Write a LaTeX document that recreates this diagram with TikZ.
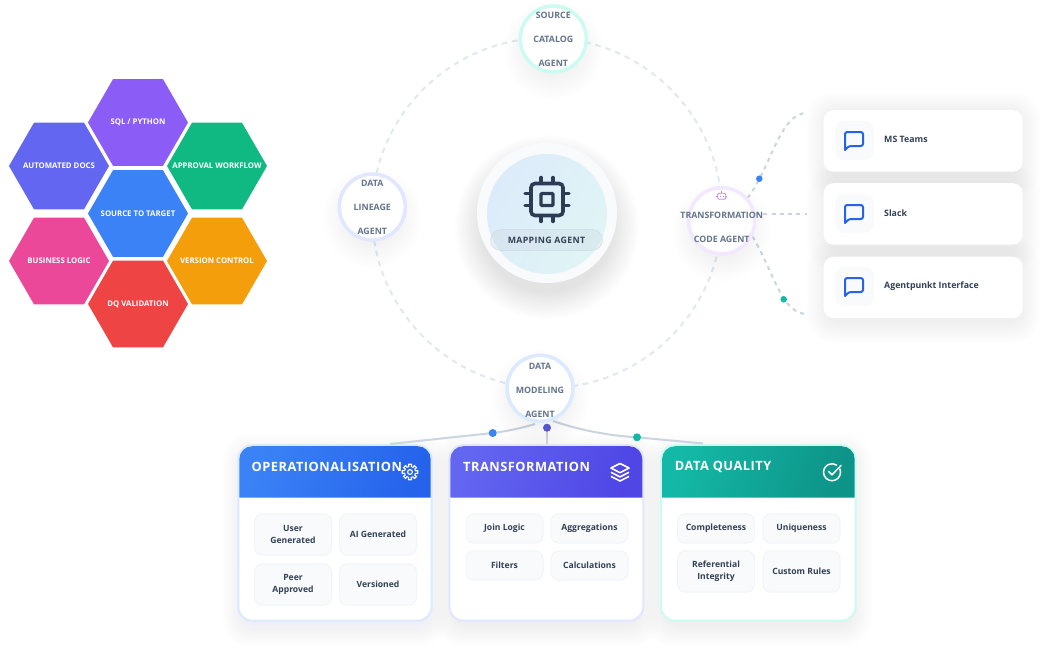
\documentclass[tikz,border=0pt]{standalone}
\usepackage{fontspec}
\setmainfont{Open Sans}
\newfontfamily\trackfont[LetterSpace=4]{Open Sans}
\usetikzlibrary{shapes.geometric}
\usetikzlibrary{arrows,arrows.meta}
\usetikzlibrary{calc}
\definecolor{hexblue}{RGB}{59,130,246}
\definecolor{hexviolet}{RGB}{139,92,246}
\definecolor{hexindigo}{RGB}{99,102,241}
\definecolor{hexgreen}{RGB}{16,185,129}
\definecolor{hexpink}{RGB}{236,72,153}
\definecolor{hexamber}{RGB}{245,158,11}
\definecolor{hexred}{RGB}{239,68,68}
\definecolor{ringline}{RGB}{226,232,240}
\definecolor{linkline}{RGB}{203,213,225}
\definecolor{agenttext}{RGB}{100,116,139}
\definecolor{inktext}{RGB}{51,65,85}
\definecolor{icondark}{RGB}{45,60,85}
\definecolor{chipfill}{RGB}{248,250,252}
\definecolor{chipline}{RGB}{241,245,249}
\definecolor{bubbleblue}{RGB}{37,99,235}
\definecolor{edgeblue}{RGB}{219,234,254}
\definecolor{edgeindigo}{RGB}{224,231,255}
\definecolor{edgeteal}{RGB}{204,251,241}
\definecolor{edgepurple}{RGB}{243,232,255}
\definecolor{headindigo}{RGB}{79,70,229}
\definecolor{headteal}{RGB}{20,184,166}
\definecolor{headtealdark}{RGB}{13,148,136}
\definecolor{robotpurple}{RGB}{192,132,252}
\definecolor{mapleft}{RGB}{220,235,250}
\definecolor{mapright}{RGB}{224,245,245}

\newcommand{\glowdisc}[5]{\foreach \g in {1,...,14}{\fill[#4,opacity=#5] (#1,#2) circle (#3+\g*2);}}
\newcommand{\glowbox}[6]{\foreach \g in {1,...,16}{\fill[#5,opacity=#6,rounded corners=12+\g] (#1-\g*1.4,#2-\g*1.4) rectangle (#3+\g*1.4,#4+\g*1.4);}}
\newcommand{\bubbleicon}[2]{\draw[bubbleblue, line width=2pt, line join=round, shift={(#1,#2)}] (3,21) [rounded corners=2.2] -- (3,3) -- (21,3) -- (21,17) -- (7,17) [sharp corners] -- cycle;}
\newcommand{\hexlabel}[1]{\makebox[0pt]{\raisebox{-1.5pt}{#1}}}

\tikzset{
	hexa/.style={regular polygon, regular polygon sides=6, minimum size=100pt, inner sep=0pt, outer sep=0pt, text=white, font=\bfseries\fontsize{7.8}{10}\selectfont},
	orbit/.style={circle, draw=ringline, line width=2pt, dash pattern=on 5.5pt off 5pt, minimum size=350pt, inner sep=0pt},
	agent/.style={circle, fill=white, line width=3.5pt, minimum size=66pt, inner sep=0pt},
	agentlabel/.style={align=center, text=agenttext, font=\bfseries\fontsize{8.8}{24}\selectfont, inner sep=0pt},
	toolcard/.style={rectangle, rounded corners=10pt, fill=white, minimum width=199pt, minimum height=61.5pt, anchor=north west, inner sep=0pt},
	toolicon/.style={rectangle, rounded corners=9pt, fill=chipfill, minimum size=39pt, inner sep=0pt},
	toollabel/.style={anchor=west, text=inktext, inner sep=0pt, font=\bfseries\fontsize{8.8}{11}\selectfont},
	panel/.style={rectangle, rounded corners=14pt, fill=white, line width=2pt, anchor=north west, minimum height=175.5pt, inner sep=0pt},
	paneltitle/.style={anchor=west, text=white, inner sep=0pt, font=\trackfont\bfseries\fontsize{12.8}{14}\selectfont},
	chip/.style={rectangle, rounded corners=8pt, fill=chipfill, draw=chipline, line width=1pt, anchor=north west, minimum width=77pt, align=center, text=inktext, inner sep=0pt, font=\bfseries\fontsize{8.6}{12.4}\selectfont},
	linkdash/.style={linkline, line width=2pt, dash pattern=on 4pt off 4.3pt},
	linksolid/.style={linkline, line width=2pt},
	dot/.style={circle, minimum size=6.5pt, inner sep=0pt},
	busdot/.style={circle, minimum size=8pt, inner sep=0pt},
}

\begin{document}
\begin{tikzpicture}[x=1pt, y=-1pt]

	\useasboundingbox (0,0) rectangle (1040,650);
	\fill[white] (0,0) rectangle (1040,650);

	% hexagons
	\node[hexa, fill=hexviolet] (sqlhex) at (138,122.5) {\hexlabel{SQL / PYTHON}};
	\node[hexa, fill=hexindigo] (docshex) at (59,166) {\hexlabel{AUTOMATED DOCS}};
	\node[hexa, fill=hexgreen] (approvalhex) at (217,166) {\hexlabel{APPROVAL WORKFLOW}};
	\node[hexa, fill=hexblue] (targethex) at (138,213.5) {\hexlabel{SOURCE TO TARGET}};
	\node[hexa, fill=hexpink] (logichex) at (59,261) {\hexlabel{BUSINESS LOGIC}};
	\node[hexa, fill=hexamber] (versionhex) at (217,261) {\hexlabel{VERSION CONTROL}};
	\node[hexa, fill=hexred] (dqhex) at (138,304) {\hexlabel{DQ VALIDATION}};

	% %%%% ring
	\node[orbit] (ring) at (547,213) {};

	\glowdisc{547}{227}{64}{black}{0.006}
	\node[circle, fill=chipfill, minimum size=140pt, inner sep=0pt] (mapouter) at (547,213) {};
	\node[circle, left color=mapleft, right color=mapright, shading angle=60, minimum size=120pt, inner sep=0pt] (mapinner) at (547,214) {};

	% chip icon
	\draw[icondark, line width=3.6pt, rounded corners=4pt] (531,183.5) rectangle (563,215.5);
	\draw[icondark, line width=3.4pt, rounded corners=1pt] (541,193.5) rectangle (553,205.5);
	\foreach \p in {541,553} {
		\draw[icondark, line width=3.4pt, line cap=round] (\p,177.5) -- (\p,182);
		\draw[icondark, line width=3.4pt, line cap=round] (\p,217) -- (\p,221.5);
	}
	\foreach \p in {193.5,205.5} {
		\draw[icondark, line width=3.4pt, line cap=round] (525,\p) -- (529.5,\p);
		\draw[icondark, line width=3.4pt, line cap=round] (564.5,\p) -- (569,\p);
	}
	\node[rectangle, rounded corners=10.5pt, fill=linkline, fill opacity=0.3, draw=linkline, draw opacity=0.6, line width=0.7pt, minimum width=112pt, minimum height=21pt, inner sep=0pt, text opacity=1, text=inktext, font=\trackfont\bfseries\fontsize{8.8}{10}\selectfont] (mappill) at (546.5,240) {MAPPING AGENT};

	% %%%% right side links
	\coordinate (teamsend) at (807,113);
	\coordinate (slackend) at (807,213.7);
	\coordinate (agentpunktend) at (807,314);
	\coordinate (codeagentpos) at (721.7,220.7);
	\draw[linkdash] (codeagentpos) ++(26,-22.7) .. controls (772,165) and (780,113) .. (teamsend);
	\draw[linkdash] (codeagentpos |- slackend) -- (slackend);
	\draw[linkdash] (codeagentpos) ++(31,16) .. controls (775,275) and (782,314) .. (agentpunktend);
	\node[dot, fill=hexblue] (teamsdot) at (759.3,178.7) {};
	\node[dot, fill=headteal] (agentpunktdot) at (783.7,299.3) {};

	% agents
	\glowdisc{553.3}{50}{22}{black}{0.005}
	\node[agent, draw=edgeteal] (sourceagent) at (553.3,39) {};
	\node[agentlabel] (sourcelabel) at (sourceagent) {SOURCE\\CATALOG\\AGENT};

	\glowdisc{372.3}{218}{22}{black}{0.005}
	\node[agent, draw=edgeindigo] (lineageagent) at (372.3,207) {};
	\node[agentlabel] (lineagelabel) at (lineageagent) {DATA\\LINEAGE\\AGENT};

	\glowdisc{721.7}{232}{22}{black}{0.005}
	\node[agent, draw=edgepurple] (codeagent) at (codeagentpos) {};
	\node[agentlabel] (codelabel) at (721.7,227) {TRANSFORMATION\\CODE AGENT};
	\draw[robotpurple, line width=0.8pt, rounded corners=1.2pt] (717.7,193.3) rectangle (725.7,199.3);
	\draw[robotpurple, line width=0.8pt] (721.7,193.3) -- (721.7,191.3) (716.2,196.3) -- (717.7,196.3) (725.7,196.3) -- (727.2,196.3) (720,195.5) -- (720,197) (723.4,195.5) -- (723.4,197);

	% %%%% tool cards
	\glowbox{828}{114}{1019}{175}{black}{0.003}
	\glowbox{828}{187}{1019}{248}{black}{0.003}
	\glowbox{828}{261}{1019}{321}{black}{0.003}

	\node[toolcard] (teamscard) at (823.5,110) {};
	\node[toolcard] (slackcard) at (823.5,183) {};
	\node[toolcard] (agentpunktcard) at (823.5,256.5) {};

	\node[toolicon] (teamsicon) at (854.5,140.5) {};
	\node[toolicon] (slackicon) at (854.5,213.5) {};
	\node[toolicon] (agentpunkticon) at (854.5,286.5) {};
	\bubbleicon{842}{129}
	\bubbleicon{842}{202}
	\bubbleicon{842}{275}
	\node[toollabel] (teamslabel) at (884,139.7) {MS Teams};
	\node[toollabel] (slacklabel) at (884,212.7) {Slack};
	\node[toollabel] (agentpunktlabel) at (884,285.7) {Agentpunkt Interface};

	% %%%% panels
	\glowbox{244}{456}{426}{624}{hexblue}{0.0035}
	\glowbox{455}{456}{638}{624}{hexindigo}{0.0035}
	\glowbox{667}{456}{850}{624}{headteal}{0.0035}

	\node[panel, draw=edgeblue, minimum width=193.4pt] (oppanel) at (237.3,444.2) {};
	\node[panel, draw=edgeindigo, minimum width=194pt] (transpanel) at (448.3,444.2) {};
	\node[panel, draw=edgeteal, minimum width=194.7pt] (dqpanel) at (660,444.2) {};

	\path[left color=hexblue, right color=bubbleblue, shading angle=70] (239.3,497.7) [rounded corners=13pt] -- (239.3,446.2) -- (430.7,446.2) [sharp corners] -- (430.7,497.7) -- cycle;
	\path[left color=hexindigo, right color=headindigo, shading angle=70] (450.3,497.7) [rounded corners=13pt] -- (450.3,446.2) -- (642.3,446.2) [sharp corners] -- (642.3,497.7) -- cycle;
	\path[left color=headteal, right color=headtealdark, shading angle=70] (662,497.7) [rounded corners=13pt] -- (662,446.2) -- (854.7,446.2) [sharp corners] -- (854.7,497.7) -- cycle;

	\node[paneltitle] (optitle) at (251.5,467) {OPERATIONALISATION};
	\node[paneltitle] (transtitle) at (463,467) {TRANSFORMATION};
	\node[paneltitle] (dqtitle) at (674.7,467) {DATA QUALITY};

	% gear
	\begin{scope}[shift={(410,472)}, white, line width=1.1pt, line join=round]
		\draw (-11:5.6) \foreach \a in {0,45,...,315} { -- (\a-11:7.9) -- (\a+11:7.9) -- (\a+22.5-9:5.6) -- (\a+45-11:5.6)} -- cycle;
		\draw (0,0) circle (2.4);
	\end{scope}
	% layers
	\draw[white, line width=1.6pt, line join=round] (620,463.5) -- (629,468) -- (620,472.7) -- (611,468) -- cycle;
	\draw[white, line width=1.6pt, line join=round] (611,472.3) -- (620,476.9) -- (629,472.3);
	\draw[white, line width=1.6pt, line join=round] (611,476.4) -- (620,481) -- (629,476.4);
	% check
	\draw[white, line width=1.5pt] (832,472.2) ++(-25:8.5) arc[start angle=-25, end angle=305, radius=8.5];
	\draw[white, line width=1.5pt, line cap=round, line join=round] (828.5,471.3) -- (832,474.8) -- (841,465.5);

	% chips
	\node[chip, minimum height=41.4pt] (usergen) at (254,513.3) {User\\Generated};
	\node[chip, minimum height=41.4pt] (aigen) at (339,513.3) {AI Generated};
	\node[chip, minimum height=41.4pt] (peerok) at (254,563.3) {Peer\\Approved};
	\node[chip, minimum height=41.4pt] (versioned) at (339,563.3) {Versioned};

	\node[chip, minimum height=29.4pt] (joinlogic) at (465.5,513.3) {Join Logic};
	\node[chip, minimum height=29.4pt] (aggregations) at (550.5,513.3) {Aggregations};
	\node[chip, minimum height=29.4pt] (filters) at (465.5,550.3) {Filters};
	\node[chip, minimum height=29.4pt] (calculations) at (550.5,550.3) {Calculations};

	\node[chip, minimum height=29.4pt] (completeness) at (677,513.3) {Completeness};
	\node[chip, minimum height=29.4pt] (uniqueness) at (762.5,513.3) {Uniqueness};
	\node[chip, minimum height=41.4pt] (refintegrity) at (677,550.3) {Referential\\Integrity};
	\node[chip, minimum height=41.4pt] (customrules) at (762.5,550.3) {Custom Rules};

	% %%%% modeling agent and its links
	\coordinate (oplink) at (390,444);
	\coordinate (dqlink) at (703,443.5);
	\draw[linksolid] (535,424) .. controls (515,430) and (500,432) .. (492.7,433) -- (oplink);
	\draw[linksolid] (547,424) -- (547,444);
	\draw[linksolid] (553,421) .. controls (585,432) and (615,436) .. (637,437.3) -- (dqlink);
	\node[busdot, fill=hexblue] (opdot) at (492.7,433) {};
	\node[busdot, fill=headteal] (dqdot) at (637,437.3) {};

	\glowdisc{540}{399}{22}{black}{0.005}
	\node[agent, draw=edgeblue] (modelagent) at (540,388.3) {};
	\node[agentlabel] (modellabel) at (540,390) {DATA\\MODELING\\AGENT};
	\node[busdot, fill=hexindigo!85!black] (transdot) at (547,427.7) {};

\end{tikzpicture}
\end{document}
